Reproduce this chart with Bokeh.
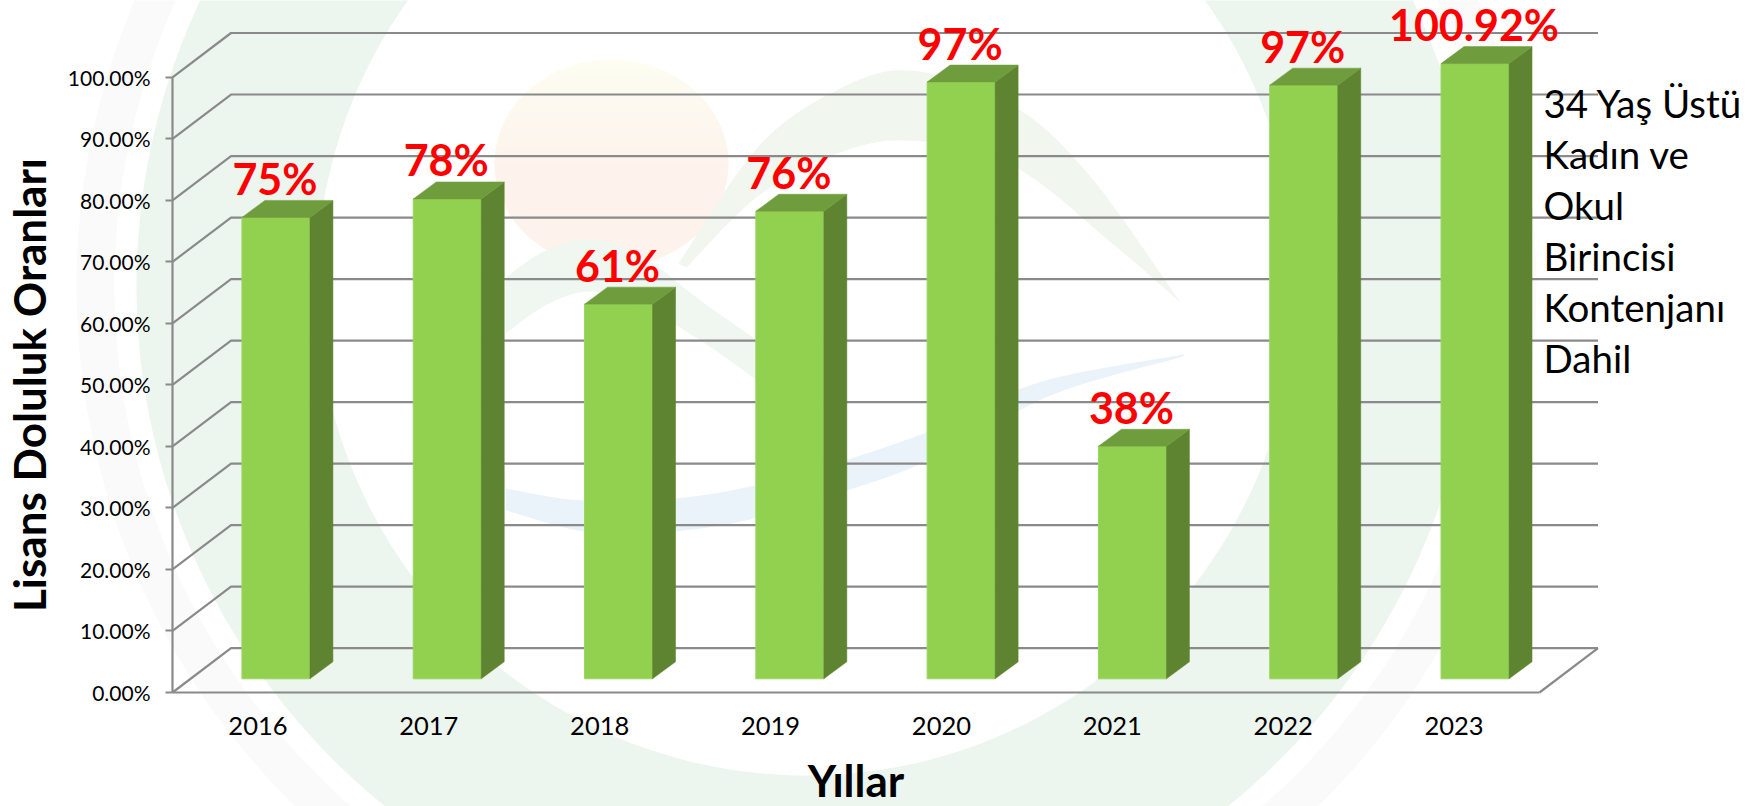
import numpy as np
from bokeh.core.properties import value
from bokeh.embed import file_html
from bokeh.models import ColumnDataSource, FixedTicker, Range1d
from bokeh.plotting import figure
from bokeh.resources import INLINE

# ---- data ----
years = ["2016", "2017", "2018", "2019", "2020", "2021", "2022", "2023"]
occupancy = [75.0, 78.0, 60.9, 76.0, 97.0, 37.8, 96.5, 100.92]
occupancy_labels = ["75%", "78%", "61%", "76%", "97%", "38%", "97%", "100.92%"]
y_ticks = [0, 10, 20, 30, 40, 50, 60, 70, 80, 90, 100]
y_tick_labels = ["0.00%", "10.00%", "20.00%", "30.00%", "40.00%", "50.00%",
                 "60.00%", "70.00%", "80.00%", "90.00%", "100.00%"]
note_lines = ["34 Yaş Üstü", "Kadın ve", "Okul", "Birincisi", "Kontenjanı", "Dahil"]
x_title = "Yıllar"
y_title = "Lisans Doluluk Oranları"

# ---- page geometry (window pixels) ----
W, H = 1747, 806
AX_L, AX_B, AX_T, AX_R = 172.0, 692.0, 76.8, 1539.0
n = len(years)
UX = (AX_R - AX_L) / n       # pixels per category
UY = (AX_B - AX_T) / 100.0   # pixels per percent
axis_max = y_ticks[-1]

def X(px):
    return (np.asarray(px, dtype=float) - AX_L) / UX

def Y(py):
    return (AX_B - np.asarray(py, dtype=float)) / UY

# 3-D projection offsets, in data units
wall_dx, wall_dy = 58.5 / UX, 44.3 / UY
bar_dx, bar_dy = 18.0 / UX, 13.7 / UY
side_dx, side_dy = 23.0 / UX, 17.0 / UY
bar_w = 68.0 / UX
bar_step = 171.3 / UX

p = figure(width=W, height=H, output_backend="svg", toolbar_location=None,
           x_range=Range1d(float(X(0)), float(X(W))),
           y_range=Range1d(float(Y(H)), float(Y(0))),
           min_border=0, outline_line_color=None, background_fill_color="white",
           border_fill_color="white")
p.grid.visible = False

# ---- faint watermark behind the chart ----
def ring(cx, cy, r0, r1, color):
    t = np.linspace(0, 2 * np.pi, 361)
    xs = np.r_[cx + r1 * np.cos(t), cx + r0 * np.cos(t[::-1])]
    ys = np.r_[cy + r1 * np.sin(t), cy + r0 * np.sin(t[::-1])]
    p.patch(X(xs), Y(ys), fill_color=color, line_color=None)

def smooth(pts, k=12):
    """Catmull-Rom curve through the given window-pixel points."""
    P = np.asarray(pts, dtype=float)
    P = np.vstack([P[0], P, P[-1]])
    out = []
    for i in range(1, len(P) - 2):
        u = np.linspace(0, 1, k, endpoint=False)[:, None]
        a, b, c, d = P[i - 1], P[i], P[i + 1], P[i + 2]
        out.append(0.5 * (2 * b + (c - a) * u + (2 * a - 5 * b + 4 * c - d) * u**2
                          + (3 * b - a - 3 * c + d) * u**3))
    out.append(P[-2][None, :])
    return np.vstack(out)

def blob(upper, lower, color):
    c = np.r_[smooth(upper), smooth(lower)[::-1]]
    p.patch(X(c[:, 0]), Y(c[:, 1]), fill_color=color, line_color=None)

ring(806, 285, 692, 730, "#fafafa")
ring(806, 285, 490, 670, "#edf5ef")

# sun disc with a soft vertical gradient, built from thin slices
sun_cx, sun_cy, sun_rx, sun_ry = 611, 163, 117, 104
slices = 24
c_top, c_bot = np.array([253, 253, 242]), np.array([253, 243, 236])
for i in range(slices):
    y0 = sun_cy - sun_ry + 2 * sun_ry * i / slices
    y1 = sun_cy - sun_ry + 2 * sun_ry * (i + 1) / slices + 0.6
    yy = np.linspace(y0, min(y1, sun_cy + sun_ry), 6)
    half = sun_rx * np.sqrt(np.clip(1 - ((yy - sun_cy) / sun_ry) ** 2, 0, 1))
    f = min(1.0, i / (slices * 0.55))
    col = c_top + (c_bot - c_top) * f
    p.patch(X(np.r_[sun_cx - half, (sun_cx + half)[::-1]]), Y(np.r_[yy, yy[::-1]]),
            fill_color="#%02x%02x%02x" % tuple(int(v) for v in col), line_color=None)

blob([(505, 277), (545, 250), (589, 239), (640, 255), (700, 300), (757, 340)],
     [(505, 333), (545, 305), (589, 291), (640, 305), (700, 340), (757, 380)], "#f0f6f0")
blob([(678, 263), (757, 147), (834, 91), (910, 70), (1012, 105), (1089, 175), (1180, 302)],
     [(686, 267), (757, 196), (834, 154), (910, 140), (1012, 165), (1114, 245), (1180, 302)],
     "#f1f6ef")
blob([(505, 488), (585, 500), (700, 495), (810, 470), (928, 431), (1038, 382), (1183, 354)],
     [(505, 510), (600, 533), (720, 525), (830, 495), (928, 460), (1050, 395), (1183, 356)],
     "#ebf3fa")

# ---- 3-D walls: side diagonals and back-wall grid lines ----
GRID = "#8a8a8a"
for v in y_ticks:
    p.line([0, wall_dx, n + wall_dx], [v, v + wall_dy, v + wall_dy],
           line_color=GRID, line_width=2.2)
p.line([n, n + wall_dx], [0, wall_dy], line_color=GRID, line_width=2.2)

# ---- axes ----
p.yaxis.fixed_location = 0
p.xaxis.fixed_location = 0
p.yaxis.bounds = (0, axis_max)
p.xaxis.bounds = (0, n)
p.yaxis.ticker = FixedTicker(ticks=y_ticks)
p.yaxis.major_label_overrides = dict(zip(y_ticks, y_tick_labels))
x_pos = [i + 0.5 for i in range(n)]
p.xaxis.ticker = FixedTicker(ticks=x_pos)
p.xaxis.major_label_overrides = dict(zip(x_pos, years))
for ax in (p.xaxis, p.yaxis):
    ax.axis_line_color = GRID
    ax.axis_line_width = 2.2
    ax.major_tick_line_color = GRID
    ax.major_tick_line_width = 2
    ax.minor_tick_line_color = None
    ax.major_tick_in = 0
    ax.major_label_text_font = "Lato"
    ax.major_label_text_color = "#000000"
    ax.axis_label_text_font = "Lato"
    ax.axis_label_text_font_style = "bold"
    ax.axis_label_text_font_size = "44px"
    ax.axis_label_text_color = "#000000"
p.yaxis.major_label_text_font_size = "21px"
p.xaxis.major_label_text_font_size = "25.5px"
p.xaxis.major_tick_out = 0
p.yaxis.major_tick_out = 7
p.yaxis.major_label_standoff = 15
p.xaxis.major_label_standoff = 24
p.xaxis.axis_label = x_title
p.yaxis.axis_label = y_title
p.xaxis.axis_label_standoff = 16
p.yaxis.axis_label_standoff = 10

# ---- bars ----
shown = np.minimum(np.array(occupancy), axis_max)
centers = 0.5 + bar_dx + np.arange(n) * bar_step
left = centers - bar_w / 2
right = left + bar_w
bottom = np.full(n, bar_dy)
top = shown + bar_dy

p.quad(left=left, right=right, bottom=bottom, top=top,
       fill_color="#92d050", line_color="#9ad65e", line_width=1)
p.patches([[r, r + side_dx, r + side_dx, r] for r in right],
          [[b, b + side_dy, t_ + side_dy, t_] for b, t_ in zip(bottom, top)],
          fill_color="#5f8431", line_color="#5f8431", line_width=0.5)
p.patches([[l, l + side_dx, r + side_dx, r] for l, r in zip(left, right)],
          [[t_, t_ + side_dy, t_ + side_dy, t_] for t_ in top],
          fill_color="#6f9c3c", line_color="#6f9c3c", line_width=0.5)

# ---- value labels ----
src = ColumnDataSource(dict(x=centers - 1 / UX,
                            y=top + 39.0 / UY,
                            text=occupancy_labels))
p.text(x="x", y="y", text="text", source=src, text_color="#ff0000",
       text_font=value("Lato"), text_font_style="bold", text_font_size="43px",
       text_align="center", text_baseline="alphabetic")

# ---- side note ----
note_y = Y(102 + 51.1 * np.arange(len(note_lines)))
p.text(x=[float(X(1543))] * len(note_lines), y=note_y, text=note_lines,
       text_color="#000000", text_font=value("Lato"), text_font_size="38.5px",
       text_align="left", text_baseline="alphabetic")

open("out.html", "w").write(file_html(p, INLINE))
